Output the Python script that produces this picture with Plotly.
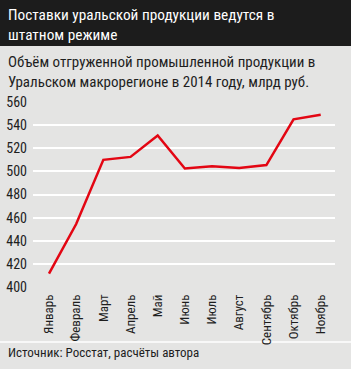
import plotly.graph_objects as go

months = ["Январь", "Февраль", "Март", "Апрель", "Май", "Июнь", "Июль",
          "Август", "Сентябрь", "Октябрь", "Ноябрь"]
values = [411.5, 454.5, 510, 512.5, 531, 502.5, 504.5, 503, 505.5, 545, 549]
yticks = [400, 420, 440, 460, 480, 500, 520, 540, 560]

title_lines = ["Поставки уральской продукции ведутся в", "штатном режиме"]
subtitle_lines = ["Объём отгруженной промышленной продукции в",
                  "Уральском макрорегионе в 2014 году, млрд руб."]
source = "Источник: Росстат, расчёты автора"

W, H = 351, 369
L, R, T, B = 33, 16, 102, 82
PW = W - L - R
PH = H - T - B
FONT = "Roboto Condensed, DejaVu Sans Condensed, sans-serif"


def px(x):
    return (x - L) / PW


def py(y):
    return (H - B - y) / PH


fig = go.Figure()
fig.add_trace(go.Scatter(
    x=months, y=values, mode="lines",
    line=dict(color="#e30613", width=2.5), hoverinfo="skip",
))

shapes = [
    dict(type="rect", xref="paper", yref="paper", x0=px(0), x1=px(W),
         y0=py(46), y1=py(0), fillcolor="#1c1c1c", line=dict(width=0), layer="below"),
    dict(type="line", xref="paper", yref="paper", x0=px(0), x1=px(W),
         y0=py(342), y1=py(342), line=dict(color="#ffffff", width=1.5), layer="below"),
]

annotations = []
for i, t in enumerate(title_lines):
    annotations.append(dict(text=t, xref="paper", yref="paper", x=px(6), y=py(15 + 20 * i),
                            xanchor="left", yanchor="middle", showarrow=False,
                            font=dict(family=FONT, size=15.3, color="#ffffff")))
for i, t in enumerate(subtitle_lines):
    annotations.append(dict(text=t, xref="paper", yref="paper", x=px(6), y=py(62 + 20 * i),
                            xanchor="left", yanchor="middle", showarrow=False,
                            font=dict(family=FONT, size=15, color="#1e1e1e")))
annotations.append(dict(text=source, xref="paper", yref="paper", x=px(6), y=py(352),
                        xanchor="left", yanchor="middle", showarrow=False,
                        font=dict(family=FONT, size=13, color="#1e1e1e")))

fig.update_layout(
    width=W, height=H,
    margin=dict(l=L, r=R, t=T, b=B, pad=0, autoexpand=False),
    paper_bgcolor="#e4e4e3", plot_bgcolor="#e4e4e3",
    showlegend=False,
    shapes=shapes, annotations=annotations,
    xaxis=dict(type="category", range=[-0.589, 10.526], showgrid=False, zeroline=False,
               showline=False, ticks="", tickangle=-90, ticklabelstandoff=4,
               automargin=False,
               tickfont=dict(family=FONT, size=13, color="#1e1e1e")),
    yaxis=dict(range=[400, 560], tickvals=yticks, showgrid=True, gridcolor="#ffffff",
               gridwidth=1.5, zeroline=False, showline=False, ticks="",
               ticklabelstandoff=5, automargin=False,
               tickfont=dict(family=FONT, size=14, color="#1e1e1e")),
)

fig.write_html("out.html")
